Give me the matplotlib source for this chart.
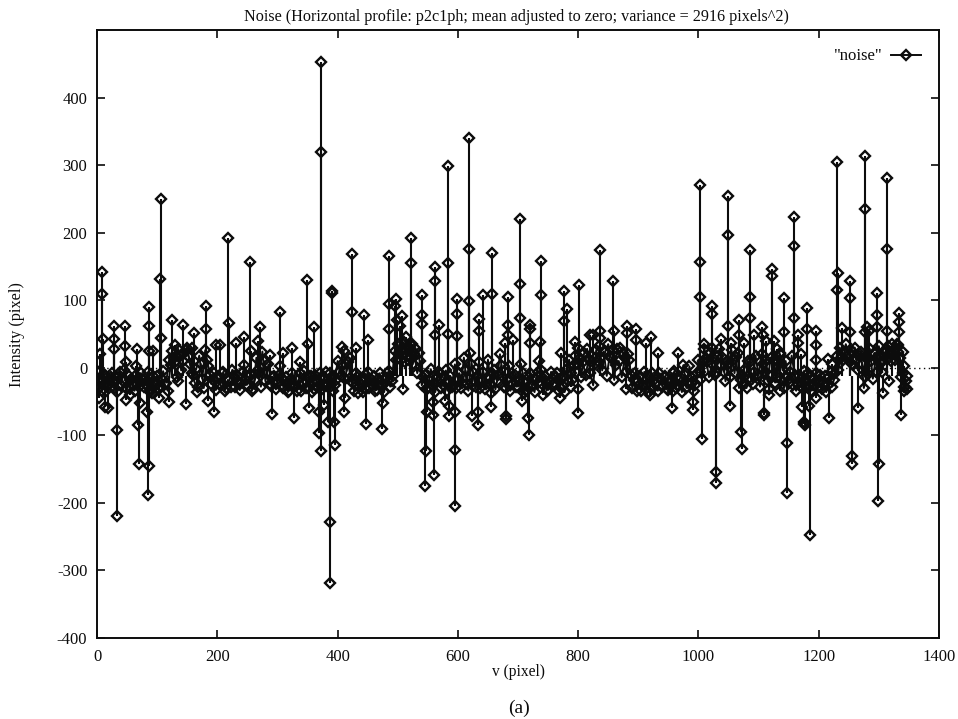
import numpy as np
import matplotlib
matplotlib.use('Agg')
import matplotlib.pyplot as plt

# low level band of the profile, one row per 100 pixels, one value every 5 pixels
base_y = [
    -5, -28, -12, -35, -20, -8, -30, -14, -25, -3, -32, -18, -26, -10, -29, -16, -24, -6, -31, -20,
    -12, -27, -5, -22, 12, 25, 8, 28, -4, 22, 30, 5, -10, -2, 18, -16, 26, 2, -24, -8,
    -14, -26, -6, -30, -18, -3, -28, -12, -22, 4, -25, -9, -31, 15, -8, 24, -20, 5, -27, -12,
    -22, 2, -30, -14, -34, -8, -26, -18, -35, -5, -28, -12, -32, -20, -8, -25, -6, -30, -15, -25,
    10, -12, 25, -5, 15, -22, -8, -28, -16, -30, -6, -24, -12, -33, -8, -26, -15, -5, -20, 25,
    35, 12, 38, 18, 30, 5, 28, 22, -26, -10, -30, -2, -22, -14, -8, -25, -4, -20, -28, 5,
    -16, -30, 15, -24, 22, -6, -28, 8, -18, -32, 12, -26, -4, -20, 20, -14, -30, 3, -24, -10,
    -28, 6, -20, -33, -8, -26, -16, 10, -24, -12, -33, -6, -22, -8, -28, -12, -4, 12, -18, 18,
    30, -14, 22, 28, -8, -26, 26, 32, -4, 24, 35, 14, -18, 28, 30, 22, -6, 12, -30, -8,
    -20, -34, -6, -24, -14, -30, -22, -8, -28, -12, -33, -18, -5, -26, -14, 4, -30, 2, -22, -26,
    12, -16, 28, 8, 22, 14, -6, 28, 16, -20, 6, 26, -8, 22, -18, -4, -30, 8, -24, 18,
    -12, 20, -6, -20, 15, 12, -14, 22, -4, 10, -22, 18, -10, -24, -16, -5, -28, -14, -26, -8,
    -20, -32, -12, -25, -6, -18, 18, 30, 12, 35, 20, 5, 30, -4, 24, -30, -8, 28, -16, 15,
    32, -6, 22, 32, 10, 28, 35, 15, -8, -20,
]
base_x = np.arange(len(base_y)) * 5

# samples in between, keep the band solid
fill_y = [
    -18, -34, -10, -26, -14, -22, -36, -6, -20, -30, -12, -24, -34, -16, -8, -28, -20, -36, -12, -26,
    -32, -16, -24, -34, 4, 15, -14, 18, 10, 26, 16, -8, -22, -28, 6, -30, 12, -10, -18, -33,
    -24, -8, -34, -18, -28, -12, -20, -33, -6, -26, -14, -34, -18, -4, -28, 10, -8, -24, -14, -32,
    -10, -26, -20, -36, -16, -28, -34, -8, -22, -30, -14, -36, -10, -28, -33, -14, -24, -8, -34, -18,
    -6, 6, -16, 8, -20, -34, -14, -22, -36, -10, -30, -18, -34, -16, -26, -36, -8, -28, -12, 12,
    22, 28, 8, 30, 14, 20, -8, 10, -14, -32, -18, -26, -36, -6, -30, -14, -34, -12, -24, -30,
    -8, -22, -4, -34, 6, -20, -12, -30, -6, -24, -16, -8, -32, -10, 4, -28, -18, -34, -12, -28,
    -16, -8, -34, -14, -26, -36, -6, -4, -16, -34, -20, -26, -14, -34, -16, -36, -20, -8, 4, 6,
    14, 8, -10, 12, 18, 6, 10, 16, 24, -12, 18, 26, 4, 10, -14, 14, 20, -10, -18, -34,
    -12, -26, -18, -36, -8, -24, -34, -16, -14, -32, -22, -8, -30, -18, -36, -10, -22, -14, -34, -8,
    -6, 10, 14, -14, 6, -10, 18, 4, -6, 10, -14, 12, 16, -30, -10, -22, 10, -18, -6, -10,
    -28, 6, 12, -32, -10, -22, 8, -16, -30, -14, -6, -26, -34, -12, -30, -20, -8, -34, -16, -30,
    -10, -24, -36, -14, -28, -8, -4, 14, 22, 16, 8, 24, 12, 18, 6, -14, 14, 10, 22, -6,
    18, 10, 26, 14, 22, 12, 24, -14, -28, -32,
]
fill_x = np.arange(len(fill_y)) * 5 + 2.5

# tall spikes (one marker each)
spike_x = [
    5, 5, 9, 9, 10, 28, 28, 29, 46, 47, 48, 66, 65, 86, 86, 86, 93, 106, 105, 106,
    124, 130, 143, 161, 158, 181, 181, 198, 205, 218, 219, 231, 245, 255, 256, 268, 271, 288,
    309, 304, 324, 338, 349, 350, 360, 373, 373, 391, 391, 407, 424, 424, 444, 451, 430,
    486, 486, 486, 497, 496, 507, 498, 504, 513, 520, 522, 522, 523, 541, 541, 541,
    562, 562, 569, 562, 584, 583, 584, 599, 599, 599, 618, 618, 618, 642, 657, 657, 635, 635,
    683, 683, 683, 692, 679, 703, 703, 704, 720, 720, 720, 738, 738, 736,
    776, 782, 777, 771, 801, 795, 837, 837, 837, 858, 860, 881, 882, 896, 896, 921, 913, 933,
    820, 825, 966, 1003, 1003, 1003, 1009, 1022, 1022, 1022, 1038, 1049, 1049, 1049, 1054,
    1068, 1068, 1075, 1086, 1086, 1086, 1093, 1106, 1108, 1113, 1126, 1130, 1136,
    1122, 1122, 1142, 1142, 1159, 1159, 1159, 1165, 1165, 1170, 1181, 1181, 1195, 1195, 1195,
    1215, 1222, 1230, 1232, 1231, 1239, 1252, 1252, 1252, 1267, 1277, 1277, 1280, 1277, 1284,
    1297, 1297, 1297, 1314, 1313, 1314, 1322, 1302, 1333, 1333, 1333, 1340, 1331, 1342,
    3, 13, 19, 33, 33, 49, 55, 69, 72, 70, 83, 87, 85, 92, 103, 120, 148, 135, 166, 184, 195,
    291, 327, 353, 369, 369, 372, 377, 384, 396, 394, 388, 388, 411, 413, 434, 447, 474, 475,
    509, 547, 546, 548, 558, 559, 561, 579, 585, 585, 595, 596, 596, 623, 633, 633, 655, 655,
    680, 680, 707, 710, 717, 718, 733, 742, 770, 788, 800, 800, 880, 920, 956, 958,
    991, 991, 1006, 1030, 1030, 1053, 1071, 1072, 1109, 1109, 1118, 1136, 1147, 1147,
    1172, 1175, 1176, 1178, 1184, 1195, 1185, 1217, 1255, 1256, 1266, 1299, 1300, 1307, 1317,
    1337, 1342, 1347, 1343,
]
spike_y = [
    20, -5, 142, 109, 43, 62, 43, 28, 62, 32, 9, 28, 2, 90, 62, 25, 25, 250, 132, 44,
    70, 33, 63, 51, 29, 91, 58, 33, 33, 192, 67, 37, 46, 157, 25, 40, 61, 19,
    22, 83, 30, 9, 130, 35, 61, 452, 319, 111, 114, 31, 169, 83, 78, 41, 29,
    166, 95, 57, 102, 92, 77, 71, 62, 45, 35, 192, 155, 35, 107, 78, 65,
    149, 129, 64, 49, 155, 298, 50, 102, 80, 47, 340, 176, 99, 108, 170, 109, 72, 55,
    105, 64, 49, 41, 37, 220, 124, 74, 64, 57, 36, 158, 107, 38,
    114, 87, 69, 22, 123, 38, 175, 55, 44, 129, 55, 62, 51, 58, 41, 46, 37, 22,
    49, 49, 22, 271, 157, 105, 35, 92, 80, 30, 43, 254, 197, 62, 37,
    71, 48, 37, 175, 105, 74, 48, 61, 48, 40, 40, 28, 20,
    146, 136, 103, 53, 223, 180, 74, 48, 37, 20, 89, 57, 54, 33, 12,
    13, 5, 115, 141, 304, 59, 129, 104, 53, 22, 235, 313, 60, 53, 54,
    111, 78, 61, 176, 281, 55, 35, 8, 81, 68, 53, 23, 33, 3,
    -44, -58, -60, -92, -220, -47, -41, -85, -52, -142, -65, -146, -188, -37, -44, -50, -53, -20, -36, -49, -65,
    -68, -75, -59, -65, -96, -123, -55, -81, -114, -81, -229, -318, -65, -44, -37, -83, -90, -52,
    -31, -123, -175, -65, -50, -70, -158, -49, -71, -56, -121, -205, -65, -71, -84, -65, -58, -37,
    -72, -76, -49, -38, -74, -100, -22, -40, -44, -28, -67, -32, -32, -40, -59, -35,
    -62, -50, -105, -155, -171, -56, -95, -120, -67, -70, -41, -35, -112, -185,
    -58, -83, -80, -85, -56, -45, -248, -75, -130, -143, -59, -197, -142, -37, -20,
    -70, -35, -12, -28,
]

x_ticks = [0, 200, 400, 600, 800, 1000, 1200, 1400]
y_ticks = [-400, -300, -200, -100, 0, 100, 200, 300, 400]

plt.rcParams['font.family'] = ['Liberation Serif', 'DejaVu Serif']
plt.rcParams['axes.unicode_minus'] = False
ink = '#0c0c0c'
mk = dict(marker='D', ms=4.7, mfc='none', mec=ink, mew=1.7)

fig = plt.figure(figsize=(9.58, 7.19), dpi=100)
ax = fig.add_axes([97 / 958, 1 - 638 / 719, 842 / 958, 608 / 719])

ax.axhline(0, color=ink, lw=1.0, ls=(0, (1, 2.5)), zorder=1)

# spikes go straight up or down from the band
ax.vlines(spike_x, -12, spike_y, color=ink, lw=1.5, zorder=2)
line, = ax.plot(base_x, base_y, color=ink, lw=1.4, zorder=3, **mk)
ax.plot(fill_x, fill_y, color=ink, lw=1.4, zorder=3, **mk)
ax.plot(spike_x, spike_y, ls='none', zorder=3, **mk)

ax.set_xlim(0, 1400)
ax.set_ylim(-400, 500)
ax.set_xticks(x_ticks)
ax.set_yticks(y_ticks)
ax.tick_params(direction='in', length=6, width=1.2, top=True, right=True, labelsize=12,
               color=ink, labelcolor=ink, pad=8)
ax.tick_params(axis='y', pad=7)
for s in ax.spines.values():
    s.set_linewidth(1.4)
    s.set_color(ink)

ax.set_title('Noise (Horizontal profile: p2c1ph; mean adjusted to zero; variance = 2916 pixels^2)',
             fontsize=11.6, color=ink, pad=6.5, x=0.498)
fig.text(518 / 958, 1 - 672 / 719, 'v (pixel)', ha='center', va='center', fontsize=11.2, color=ink)
fig.text(17 / 958, 1 - 335 / 719, 'Intensity (pixel)', rotation=90, ha='center', va='center',
         fontsize=11.7, color=ink)
fig.text(519 / 958, 1 - 708 / 719, '(a)', ha='center', va='center', fontsize=14, color=ink)

ax.legend([line], ['"noise"'], loc='upper right', frameon=False, fontsize=12, handlelength=1.75,
          handletextpad=0.55, markerfirst=False, borderaxespad=0.7, borderpad=0.4, labelcolor=ink)

fig.savefig('out.png', dpi=100)
